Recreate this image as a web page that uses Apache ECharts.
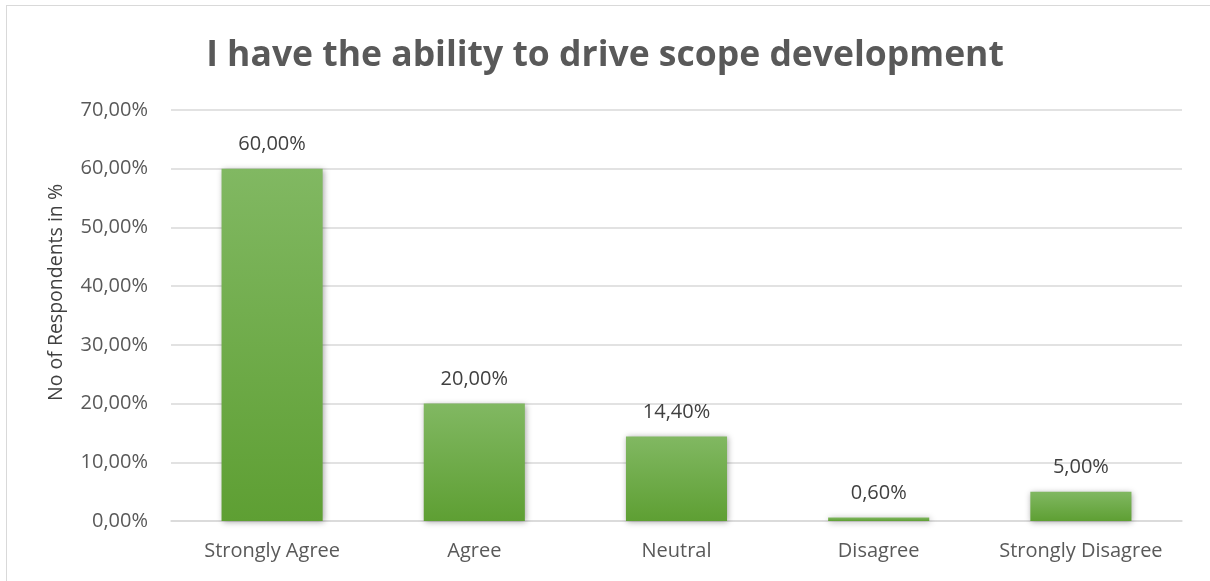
<!DOCTYPE html>
<html>
<head>
<meta charset="utf-8">
<script src="https://cdn.jsdelivr.net/npm/echarts@6/dist/echarts.min.js"></script>
<style>
  html, body { margin: 0; padding: 0; background: #ffffff; overflow: hidden; }
  #chart { width: 1210px; height: 581px; }
  #frame { position: absolute; left: 6px; top: 5px; width: 1220px; height: 600px; border: 1px solid #d9d9d9; box-sizing: border-box; pointer-events: none; }
</style>
</head>
<body>
<div id="chart"></div>
<div id="frame"></div>
<script>
// Survey responses (share of respondents, in %)
const categories = ['Strongly Agree', 'Agree', 'Neutral', 'Disagree', 'Strongly Disagree'];
const values = [60.0, 20.0, 14.4, 0.6, 5.0];
const titleText = 'I have the ability to drive scope development';
const yAxisName = 'No of Respondents in %';
const yTicks = { min: 0, max: 70, interval: 10 };

const fmtPct = v => v.toFixed(2).replace('.', ',') + '%';
const FONT = '"Open Sans", "Noto Sans", sans-serif';

const chart = echarts.init(document.getElementById('chart'), null, { renderer: 'canvas' });
chart.setOption({
  animation: false,
  backgroundColor: '#ffffff',
  title: {
    text: titleText,
    left: 'center',
    top: 33,
    textStyle: { fontFamily: FONT, fontSize: 35.5, fontWeight: 'bold', color: '#595959' }
  },
  grid: { left: 171, right: 28, top: 110, bottom: 60, containLabel: false },
  xAxis: {
    type: 'category',
    data: categories,
    axisLine: { lineStyle: { color: '#d9d9d9', width: 1.5 } },
    axisTick: { show: false },
    axisLabel: { interval: 0, fontFamily: FONT, fontSize: 20, color: '#595959', margin: 20 }
  },
  yAxis: {
    type: 'value',
    min: yTicks.min, max: yTicks.max, interval: yTicks.interval,
    axisLine: { show: false },
    axisTick: { show: false },
    splitLine: { lineStyle: { color: '#d9d9d9', width: 1.5 } },
    axisLabel: { fontFamily: FONT, fontSize: 20, color: '#595959', margin: 23, formatter: v => fmtPct(v) }
  },
  // vertical axis title, placed a little above the plot's middle
  graphic: [{
    type: 'text',
    left: 46,
    top: 184,
    rotation: Math.PI / 2,
    style: {
      text: yAxisName,
      fontFamily: FONT,
      fontSize: 19.5,
      fill: '#404040'
    }
  }],
  series: [{
    type: 'bar',
    data: values,
    barWidth: '50%',
    itemStyle: {
      color: new echarts.graphic.LinearGradient(0, 0, 0, 1, [
        { offset: 0, color: '#81b862' },
        { offset: 1, color: '#5e9f33' }
      ]),
      shadowColor: 'rgba(0,0,0,0.35)',
      shadowBlur: 6,
      shadowOffsetX: 1,
      shadowOffsetY: 1
    },
    label: {
      show: true,
      position: 'top',
      distance: 14,
      fontFamily: FONT,
      fontSize: 20,
      color: '#404040',
      formatter: p => fmtPct(p.value)
    }
  }]
});
</script>
</body>
</html>
